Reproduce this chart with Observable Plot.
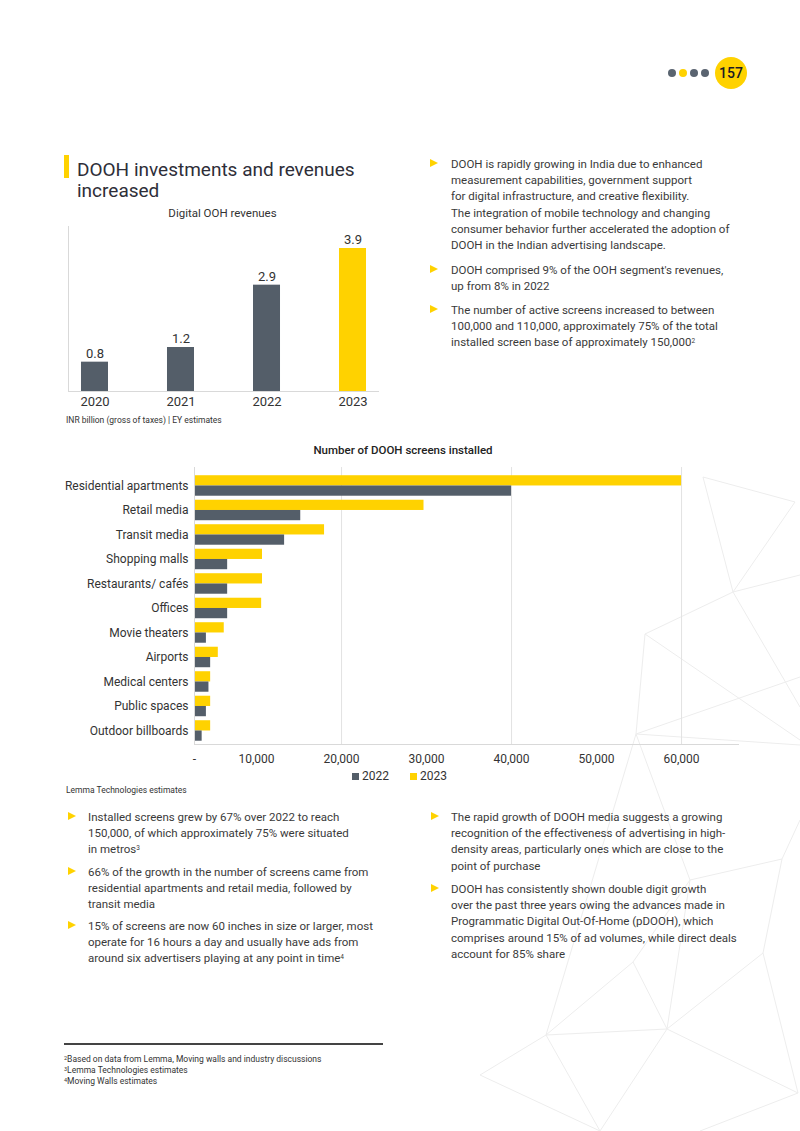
<!DOCTYPE html>
<html>
<head>
<meta charset="utf-8">
<script src="https://cdn.jsdelivr.net/npm/d3@7"></script>
<script src="https://cdn.jsdelivr.net/npm/@observablehq/plot@0.6"></script>
<style>
  html, body { margin: 0; padding: 0; background: #fff; }
  #page { position: relative; width: 800px; height: 1131px; overflow: hidden; font-family: Roboto, "Noto Sans", sans-serif; color: #3a3a3a; }
  .abs { position: absolute; }
  .txt { font-size: 11.5px; line-height: 16.2px; color: #3a3a3a; white-space: nowrap; }
  .tri { position: absolute; width: 0; height: 0; border-left: 8px solid #ffd200; border-top: 4.5px solid transparent; border-bottom: 4.5px solid transparent; }
  sup { font-size: 6.5px; vertical-align: top; position: relative; top: -1px; }
  .dot { position: absolute; width: 8px; height: 8px; border-radius: 50%; background: #5a6470; }
  #deco { position: absolute; left: 0; top: 0; }
</style>
</head>
<body>
<div id="page">
  <!-- faint decorative background network -->
  <svg id="deco" width="800" height="1131" fill="none" stroke="#ededed" stroke-width="1">
    <path d="M703,477L795,502L733,592L703,477 M733,592L800,575 M733,592L800,707 M733,592L645,634L636,734 M645,634L800,740 M636,734L800,677 M636,734L800,745 M636,734L690,880L782,859L763,953 M782,859L800,820 M763,953L798,1093 M763,953L667,1029 M690,880L633,962L667,1029 M690,880L667,1029 M636,734L546,1035L667,1029L798,1093 M546,1035L480,1075L600,1131L546,1035 M667,1029L600,1131 M798,1093L700,1131 M633,962L546,1035"/>
  </svg>

  <!-- page marker -->
  <div class="dot" style="left:668px;top:69px"></div>
  <div class="dot" style="left:679px;top:69px;background:#ffd200"></div>
  <div class="dot" style="left:690px;top:69px"></div>
  <div class="dot" style="left:701px;top:69px"></div>
  <div class="abs" style="left:715px;top:57px;width:32px;height:32px;border-radius:50%;background:#ffd200;font-size:14px;font-weight:500;color:#1a1a24;text-align:center;line-height:32px;">157</div>

  <!-- heading -->
  <div class="abs" style="left:64px;top:155px;width:5px;height:23px;background:#ffd200"></div>
  <div class="abs" style="left:77px;top:159px;font-size:19px;line-height:21px;color:#2e2e38;white-space:nowrap;">DOOH investments and revenues<br>increased</div>

  <!-- chart 1 -->
  <div class="abs" style="left:60px;top:206px;width:325px;text-align:center;font-size:11.5px;color:#333;">Digital OOH revenues</div>
  <div id="chart1" class="abs" style="left:60px;top:220px;"></div>
  <div class="abs" style="left:66px;top:415px;font-size:8.5px;color:#333;white-space:nowrap;">INR billion (gross of taxes) | EY estimates</div>

  <!-- right column text -->
  <div class="tri" style="left:430px;top:159px"></div>
  <div class="abs txt" style="left:451px;top:156px">DOOH is rapidly growing in India due to enhanced<br>measurement capabilities, government support<br>for digital infrastructure, and creative flexibility.<br>The integration of mobile technology and changing<br>consumer behavior further accelerated the adoption of<br>DOOH in the Indian advertising landscape.</div>
  <div class="tri" style="left:430px;top:265px"></div>
  <div class="abs txt" style="left:451px;top:262px">DOOH comprised 9% of the OOH segment's revenues,<br>up from 8% in 2022</div>
  <div class="tri" style="left:430px;top:305px"></div>
  <div class="abs txt" style="left:451px;top:302px">The number of active screens increased to between<br>100,000 and 110,000, approximately 75% of the total<br>installed screen base of approximately 150,000<sup>2</sup></div>

  <!-- chart 2 -->
  <div class="abs" style="left:60px;top:443px;width:686px;text-align:center;font-size:11.5px;font-weight:500;color:#222;">Number of DOOH screens installed</div>
  <div id="chart2" class="abs" style="left:60px;top:460px;"></div>
  <div id="legend2" class="abs" style="left:352px;top:769px;font-size:12px;color:#333;white-space:nowrap;"></div>
  <div class="abs" style="left:66px;top:785px;font-size:8.5px;color:#333;white-space:nowrap;">Lemma Technologies estimates</div>

  <!-- bottom bullets -->
  <div class="tri" style="left:68px;top:812px"></div>
  <div class="abs txt" style="left:88px;top:809px">Installed screens grew by 67% over 2022 to reach<br>150,000, of which approximately 75% were situated<br>in metros<sup>3</sup></div>
  <div class="tri" style="left:68px;top:867px"></div>
  <div class="abs txt" style="left:88px;top:864px">66% of the growth in the number of screens came from<br>residential apartments and retail media, followed by<br>transit media</div>
  <div class="tri" style="left:68px;top:921px"></div>
  <div class="abs txt" style="left:88px;top:918px">15% of screens are now 60 inches in size or larger, most<br>operate for 16 hours a day and usually have ads from<br>around six advertisers playing at any point in time<sup>4</sup></div>

  <div class="tri" style="left:431px;top:812px"></div>
  <div class="abs txt" style="left:451px;top:809px">The rapid growth of DOOH media suggests a growing<br>recognition of the effectiveness of advertising in high-<br>density areas, particularly ones which are close to the<br>point of purchase</div>
  <div class="tri" style="left:431px;top:884px"></div>
  <div class="abs txt" style="left:451px;top:881px">DOOH has consistently shown double digit growth<br>over the past three years owing the advances made in<br>Programmatic Digital Out-Of-Home (pDOOH), which<br>comprises around 15% of ad volumes, while direct deals<br>account for 85% share</div>

  <!-- footnotes -->
  <div class="abs" style="left:64px;top:1043px;width:319px;height:1.5px;background:#444"></div>
  <div class="abs" style="left:64px;top:1054px;font-size:8.5px;line-height:11px;color:#333;white-space:nowrap;"><sup style="font-size:5.5px">2</sup>Based on data from Lemma, Moving walls and industry discussions<br><sup style="font-size:5.5px">3</sup>Lemma Technologies estimates<br><sup style="font-size:5.5px">4</sup>Moving Walls estimates</div>
</div>

<script>
// ---------- data ----------
const revYears = ["2020", "2021", "2022", "2023"];
const revValues = [0.8, 1.2, 2.9, 3.9];
const revHighlight = "2023";

const screenCategories = [
  "Residential apartments", "Retail media", "Transit media", "Shopping malls",
  "Restaurants/ cafés", "Offices", "Movie theaters", "Airports",
  "Medical centers", "Public spaces", "Outdoor billboards"
];
const screens2022 = [40000, 15200, 13300, 6600, 6600, 6600, 4100, 4600, 4400, 4100, 3600];
const screens2023 = [60000, 29700, 18000, 10700, 10700, 10600, 6200, 5500, 4600, 4600, 4600];
const seriesNames = ["2022", "2023"];
const axisMin = 2700;
const axisMax = 66700;
const xTickValues = [axisMin, 10000, 20000, 30000, 40000, 50000, 60000];
const gridValues = [20000, 40000, 60000];

// ---------- styles ----------
const GRAY = "#545e69";
const YELLOW = "#ffd200";
const FONT = "Roboto, 'Noto Sans', sans-serif";

// ---------- chart 1 ----------
const rev = revYears.map((y, i) => ({year: y, value: revValues[i]}));
const chart1 = Plot.plot({
  width: 330, height: 200,
  marginLeft: 8, marginRight: 11, marginTop: 6, marginBottom: 29,
  style: {fontFamily: FONT, fontSize: "13px", color: "#333", background: "transparent"},
  x: {domain: revYears, paddingInner: 0.686, paddingOuter: 0.151, round: false, label: null},
  y: {domain: [0, 4.5], axis: null},
  marks: [
    Plot.frame({anchor: "left", stroke: "#d9d9d9"}),
    Plot.barY(rev, {x: "year", y: "value", fill: d => d.year === revHighlight ? YELLOW : GRAY}),
    Plot.ruleY([0], {stroke: "#d9d9d9"}),
    Plot.text(rev, {x: "year", y: "value", text: d => d.value.toFixed(1), dy: -8.5, fontSize: 13, fill: "#333"}),
    Plot.axisX({tickSize: 0, tickPadding: 5, fontSize: 13, label: null})
  ]
});
document.getElementById("chart1").appendChild(chart1);

// ---------- chart 2 ----------
const rows = [];
screenCategories.forEach((c, i) => {
  rows.push({cat: c, series: seriesNames[0], value: screens2022[i]});
  rows.push({cat: c, series: seriesNames[1], value: screens2023[i]});
});
const fmt = d3.format(",");
const chart2 = Plot.plot({
  width: 690, height: 310,
  marginLeft: 134, marginRight: 12, marginTop: 7, marginBottom: 26,
  style: {fontFamily: FONT, fontSize: "12px", color: "#333", background: "transparent"},
  x: {domain: [axisMin, axisMax], label: null},
  y: {domain: screenCategories, paddingInner: 0, paddingOuter: 0.153, align: 0.83, round: false, label: null},
  marks: [
    Plot.ruleX(gridValues, {stroke: "#e2e2e2"}),
    Plot.barX(rows.filter(d => d.series === "2023"), {y: "cat", x: "value", fill: YELLOW, insetTop: 2, insetBottom: 12.25, clip: true}),
    Plot.barX(rows.filter(d => d.series === "2022"), {y: "cat", x: "value", fill: GRAY, insetTop: 12.25, insetBottom: 2, clip: true}),
    Plot.frame({anchor: "left", stroke: "#d9d9d9"}),
    Plot.frame({anchor: "bottom", stroke: "#d9d9d9"}),
    Plot.axisY({tickSize: 0, tickPadding: 6, fontSize: 12, label: null}),
    Plot.axisX({ticks: xTickValues, tickSize: 0, tickPadding: 10, fontSize: 12, label: null,
      tickFormat: d => d === axisMin ? "-" : fmt(d)})
  ]
});
document.getElementById("chart2").appendChild(chart2);

// legend
const legendColors = {"2022": GRAY, "2023": YELLOW};
document.getElementById("legend2").innerHTML = seriesNames.map((s, i) =>
  `<span style="display:inline-block;width:7px;height:7px;background:${legendColors[s]};margin-right:3px;vertical-align:0px"></span>${s}` +
  (i < seriesNames.length - 1 ? '<span style="display:inline-block;width:21px"></span>' : "")
).join("");
</script>
</body>
</html>
